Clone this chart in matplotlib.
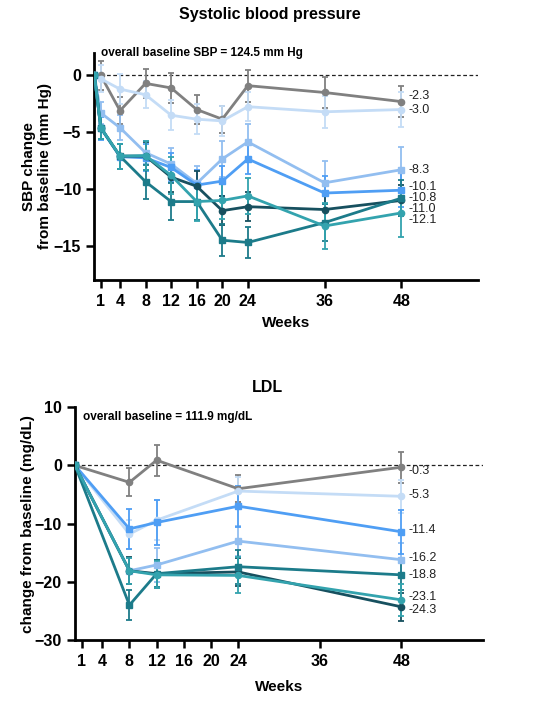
import matplotlib
matplotlib.use("Agg")
import matplotlib.pyplot as plt

plt.rcParams['font.family'] = ['Liberation Sans', 'DejaVu Sans']

# series colours / markers (placebo, then doses low -> high)
colors = ['#808080', '#c4dcf6', '#92bef0', '#4f9ef4', '#17505f', '#1c7b8a', '#33a3ae']
markers = ['o', 'o', 's', 's', 'o', 's', 'o']

# ---- Systolic blood pressure ----
sbp_weeks = [0, 1, 4, 8, 12, 16, 20, 24, 36, 48]
sbp_placebo = [0, 0.0, -3.1, -0.7, -1.1, -3.0, -3.85, -0.9, -1.5, -2.3]
sbp_dose1 = [0, -0.3, -1.2, -1.7, -3.5, -3.85, -4.0, -2.75, -3.2, -3.0]
sbp_dose2 = [0, -3.3, -4.6, -6.8, -7.8, -9.5, -7.35, -5.85, -9.45, -8.3]
sbp_dose3 = [0, -4.65, -7.15, -7.25, -8.1, -9.65, -9.3, -7.35, -10.35, -10.1]
sbp_dose4 = [0, -4.6, -7.1, -7.1, -8.95, -9.75, -11.9, -11.55, -11.8, -11.0]
sbp_dose5 = [0, -4.6, -7.1, -9.35, -11.1, -11.1, -14.5, -14.7, -12.95, -10.8]
sbp_dose6 = [0, -4.6, -7.1, -7.05, -8.8, -11.1, -11.0, -10.6, -13.25, -12.1]

sbp_err_placebo = [0, 1.3, 1.2, 1.25, 1.35, 1.25, 1.2, 1.4, 1.4, 1.4]
sbp_err_dose1 = [0, 1.2, 1.3, 1.2, 1.3, 1.3, 1.3, 1.3, 1.4, 1.5]
sbp_err_dose2 = [0, 1.0, 1.1, 1.0, 1.4, 1.5, 1.6, 1.6, 1.9, 2.0]
sbp_err_dose3 = [0, 1.0, 1.1, 1.2, 1.3, 1.3, 1.3, 1.3, 1.5, 1.5]
sbp_err_dose4 = [0, 1.0, 1.1, 1.2, 1.3, 1.3, 1.3, 1.3, 1.4, 1.4]
sbp_err_dose5 = [0, 1.0, 1.1, 1.5, 1.6, 1.6, 1.4, 1.4, 1.6, 1.6]
sbp_err_dose6 = [0, 1.0, 1.1, 1.3, 1.6, 1.7, 1.6, 1.6, 2.0, 2.1]

sbp_labels = ['-2.3', '-3.0', '-8.3', '-10.1', '-11.0', '-10.8', '-12.1']
sbp_label_shift = [0.45, 0.0, 0.0, 0.3, -0.75, 0.0, -0.6]

# ---- LDL ----
ldl_weeks = [0, 8, 12, 24, 48]
ldl_placebo = [0, -2.9, 0.9, -4.0, -0.3]
ldl_dose1 = [0, -11.8, -9.4, -4.4, -5.3]
ldl_dose2 = [0, -18.1, -17.1, -13.0, -16.2]
ldl_dose3 = [0, -10.9, -9.8, -7.0, -11.4]
ldl_dose4 = [0, -18.1, -18.6, -18.3, -24.3]
ldl_dose5 = [0, -24.0, -18.6, -17.4, -18.8]
ldl_dose6 = [0, -18.1, -18.8, -18.9, -23.1]

ldl_err_placebo = [0, 2.4, 2.7, 2.3, 2.7]
ldl_err_dose1 = [0, 2.5, 3.4, 2.5, 2.8]
ldl_err_dose2 = [0, 2.2, 3.0, 2.6, 2.8]
ldl_err_dose3 = [0, 3.4, 3.9, 3.5, 3.8]
ldl_err_dose4 = [0, 2.3, 2.4, 2.4, 2.4]
ldl_err_dose5 = [0, 2.6, 2.3, 2.9, 2.6]
ldl_err_dose6 = [0, 2.2, 2.3, 3.1, 2.8]

ldl_labels = ['-0.3', '-5.3', '-16.2', '-11.4', '-24.3', '-18.8', '-23.1']
ldl_label_shift = [-0.6, 0.15, 0.3, 0.3, -0.6, 0.0, 0.5]

week_ticks = [1, 4, 8, 12, 16, 20, 24, 36, 48]


def style_axes(ax):
    for side in ['top', 'right']:
        ax.spines[side].set_visible(False)
    for side in ['left', 'bottom']:
        ax.spines[side].set_linewidth(2.0)
    ax.tick_params(width=1.8, length=6, labelsize=11.5)
    ax.tick_params(axis='x', pad=4)
    for lab in ax.get_xticklabels() + ax.get_yticklabels():
        lab.set_fontweight('bold')


def draw_series(ax, weeks, series, errs, labels, shifts):
    for i in range(len(series)):
        ax.errorbar(weeks, series[i], yerr=errs[i], color=colors[i],
                    marker=markers[i], markersize=4.5, linewidth=2.0,
                    elinewidth=1.3, capsize=2.5, capthick=1.3, zorder=3)
        ax.text(49.1, series[i][-1] + shifts[i], labels[i], fontsize=9,
                va='center', ha='left', color='#222222')


fig = plt.figure(figsize=(5.46, 7.01), dpi=100)

# top panel
ax1 = fig.add_axes([0.1729, 0.6006, 0.7026, 0.3242])
ax1.axhline(0, color='#222222', linestyle=(0, (3, 2)), linewidth=0.9, zorder=1)
draw_series(ax1, sbp_weeks,
            [sbp_placebo, sbp_dose1, sbp_dose2, sbp_dose3, sbp_dose4, sbp_dose5, sbp_dose6],
            [sbp_err_placebo, sbp_err_dose1, sbp_err_dose2, sbp_err_dose3,
             sbp_err_dose4, sbp_err_dose5, sbp_err_dose6],
            sbp_labels, sbp_label_shift)
ax1.set_xlim(0, 60)
ax1.set_ylim(-18, 2)
ax1.set_xticks(week_ticks)
ax1.set_yticks([0, -5, -10, -15])
style_axes(ax1)
ax1.set_xlabel('Weeks', fontsize=11, fontweight='bold', labelpad=5)
ax1.set_ylabel('SBP change\nfrom baseline (mm Hg)', fontsize=11, fontweight='bold', labelpad=1)
ax1.text(1.0, 2.0, 'overall baseline SBP = 124.5 mm Hg', fontsize=8.5,
         fontweight='bold', va='center', ha='left')
fig.text(0.495, 0.979, 'Systolic blood pressure', fontsize=11.5, fontweight='bold',
         ha='center', va='center')

# bottom panel
ax2 = fig.add_axes([0.1374, 0.0870, 0.7473, 0.3320])
ax2.axhline(0, color='#222222', linestyle=(0, (3, 2)), linewidth=0.9, zorder=1)
draw_series(ax2, ldl_weeks,
            [ldl_placebo, ldl_dose1, ldl_dose2, ldl_dose3, ldl_dose4, ldl_dose5, ldl_dose6],
            [ldl_err_placebo, ldl_err_dose1, ldl_err_dose2, ldl_err_dose3,
             ldl_err_dose4, ldl_err_dose5, ldl_err_dose6],
            ldl_labels, ldl_label_shift)
ax2.set_xlim(0, 60)
ax2.set_ylim(-30, 10)
ax2.set_xticks(week_ticks)
ax2.set_yticks([10, 0, -10, -20, -30])
style_axes(ax2)
ax2.set_xlabel('Weeks', fontsize=11, fontweight='bold', labelpad=8)
ax2.set_ylabel('change from baseline (mg/dL)', fontsize=11, fontweight='bold', labelpad=0)
ax2.text(1.2, 8.4, 'overall baseline = 111.9 mg/dL', fontsize=8.5,
         fontweight='bold', va='center', ha='left')
fig.text(0.49, 0.447, 'LDL', fontsize=11.5, fontweight='bold', ha='center', va='center')

fig.savefig('out.png', dpi=100)
